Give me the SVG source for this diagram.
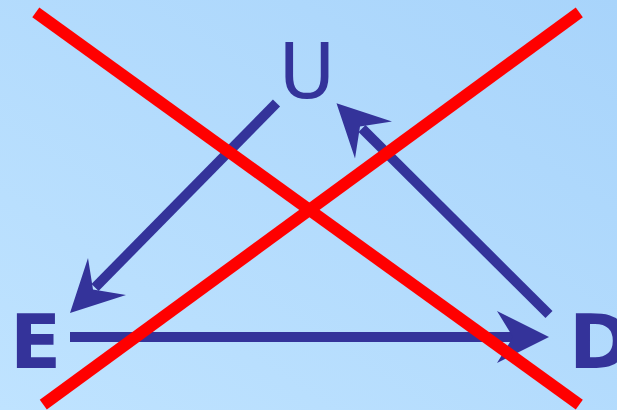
<svg xmlns="http://www.w3.org/2000/svg" width="617" height="410" viewBox="0 0 617 410">
  <defs>
    <linearGradient id="bg" x1="0" y1="1" x2="1" y2="0">
      <stop offset="0" stop-color="#bfe3ff"/>
      <stop offset="1" stop-color="#a8d4fb"/>
    </linearGradient>
    <style>
      .lbl { fill: #34339a; font-family: "DejaVu Sans", "Liberation Sans", sans-serif; }
      .b { font-weight: bold; }
      .conn { stroke: #34339a; stroke-width: 10; fill: none; stroke-linecap: butt; }
      .head { fill: #34339a; }
      .cross { stroke: #ff0000; stroke-width: 12; stroke-linecap: butt; }
    </style>
  </defs>
  <rect width="617" height="410" fill="url(#bg)"/>
  <g id="node-U"><text class="lbl" x="307" y="98" font-size="77" text-anchor="middle">U</text></g>
  <g id="node-E"><text class="lbl b" x="10" y="368" font-size="75">E</text></g>
  <g id="node-D"><text class="lbl b" x="569" y="368" font-size="75">D</text></g>
  <g id="connectors">
    <line class="conn" x1="276.5" y1="103" x2="95" y2="287.5"/>
    <polygon class="head" points="70,313 88,258 93,289.5 126,295"/>
    <line class="conn" x1="549" y1="314.5" x2="362" y2="128.5"/>
    <polygon class="head" points="336.5,103.3 392,121.5 360,126.5 355,158.5"/>
    <line class="conn" x1="70" y1="337" x2="515" y2="337"/>
    <polygon class="head" points="549,337 497,311 513,337 497,363"/>
  </g>
  <g id="cross">
    <line class="cross" x1="35.8" y1="12.3" x2="579.3" y2="404.7"/>
    <line class="cross" x1="579.3" y1="12.3" x2="43.3" y2="404.7"/>
  </g>
</svg>
